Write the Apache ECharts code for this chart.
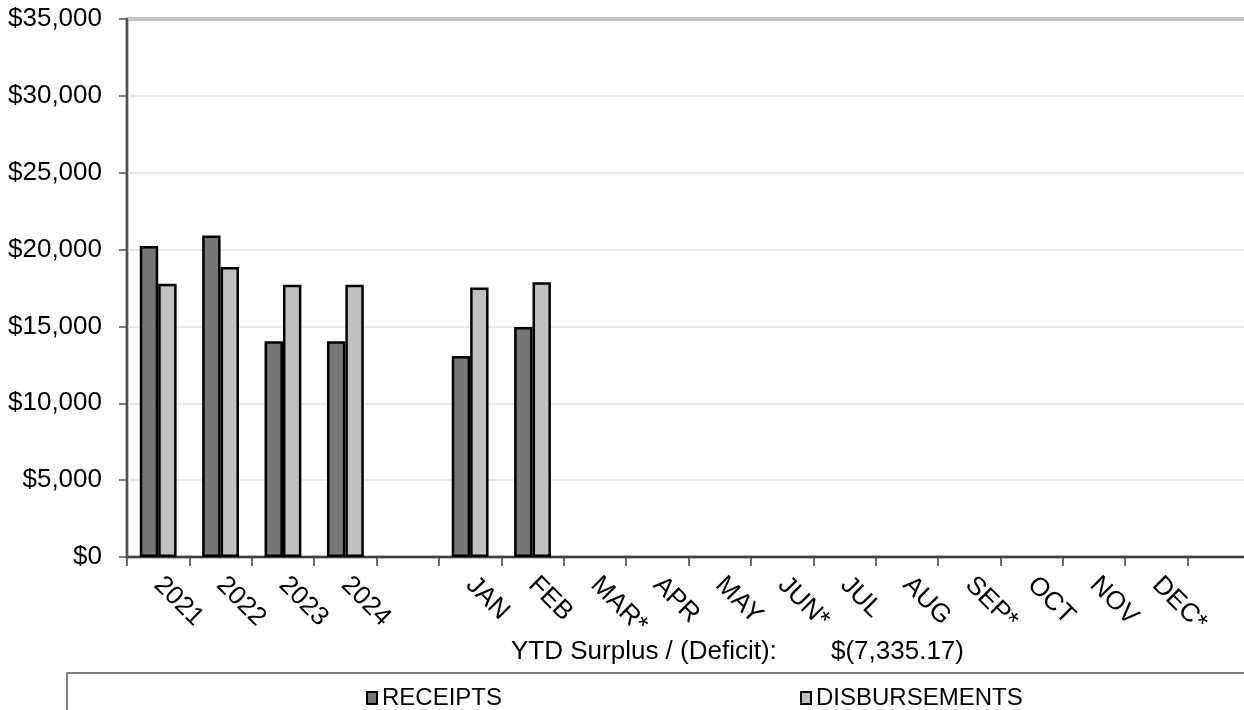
<!DOCTYPE html>
<html>
<head>
<meta charset="utf-8">
<script src="https://cdn.jsdelivr.net/npm/echarts@6/dist/echarts.min.js"></script>
<style>
html,body{margin:0;padding:0;background:#fff;}
#chart{width:1244px;height:710px;}
</style>
</head>
<body>
<div id="chart"></div>
<script>
const categories = ['2021','2022','2023','2024','','JAN','FEB','MAR*','APR','MAY','JUN*','JUL','AUG','SEP*','OCT','NOV','DEC*',''];
const receipts = [20240, 20910, 14030, 14030, null, 13070, 14960, null, null, null, null, null, null, null, null, null, null, null];
const disbursements = [17770, 18870, 17710, 17710, null, 17530, 17880, null, null, null, null, null, null, null, null, null, null, null];
const yTickValues = [0, 5000, 10000, 15000, 20000, 25000, 30000, 35000];
const ytdLabel = 'YTD Surplus / (Deficit):';
const ytdValue = '$(7,335.17)';

const FONT = "'Liberation Sans', Arial, sans-serif";
const chart = echarts.init(document.getElementById('chart'), null, {renderer: 'canvas'});

function fmtMoney(v) {
  return '$' + v.toLocaleString('en-US');
}

chart.setOption({
  animation: false,
  backgroundColor: '#ffffff',
  textStyle: {fontFamily: FONT},
  grid: {
    left: 127, top: 19, height: 538, width: 1123,
    outerBoundsMode: 'none', containLabel: false,
    show: true, borderColor: '#808080', borderWidth: 3, backgroundColor: 'transparent'
  },
  legend: [
    {
      data: ['RECEIPTS'], left: 361, top: 681, icon: 'rect',
      itemWidth: 10, itemHeight: 12, itemGap: 0,
      textStyle: {fontFamily: FONT, fontSize: 24, color: '#000'}
    },
    {
      data: ['DISBURSEMENTS'], left: 795, top: 681, icon: 'rect',
      itemWidth: 10, itemHeight: 12, itemGap: 0,
      textStyle: {fontFamily: FONT, fontSize: 24, color: '#000'}
    }
  ],
  xAxis: {
    type: 'category',
    data: categories,
    axisLine: {lineStyle: {color: '#404040', width: 2}},
    axisTick: {show: true, length: 9, lineStyle: {color: '#404040', width: 1.5}},
    axisLabel: {
      interval: 0, rotate: -45, margin: 24,
      fontFamily: FONT, fontSize: 26, color: '#000'
    },
    splitLine: {show: false}
  },
  yAxis: {
    type: 'value',
    min: 0, max: 35000, interval: 5000,
    axisLine: {show: true, lineStyle: {color: '#505050', width: 2}},
    axisTick: {show: true, length: 8, lineStyle: {color: '#505050', width: 1.5}},
    axisLabel: {
      margin: 25, fontFamily: FONT, fontSize: 26, color: '#000',
      formatter: function (v) { return yTickValues.indexOf(v) >= 0 ? fmtMoney(v) : ''; }
    },
    splitLine: {show: true, lineStyle: {color: '#e3e3e3', width: 1.5}}
  },
  series: [
    {
      name: 'RECEIPTS', type: 'bar', data: receipts,
      barGap: '0%', barCategoryGap: '41%',
      itemStyle: {color: '#767676', borderColor: '#000', borderWidth: 2.5}
    },
    {
      name: 'DISBURSEMENTS', type: 'bar', data: disbursements,
      barGap: '0%', barCategoryGap: '41%',
      itemStyle: {color: '#c0c0c0', borderColor: '#000', borderWidth: 2.5}
    }
  ],
  graphic: [
    {
      type: 'text', left: 511, top: 639,
      style: {text: ytdLabel, fontFamily: FONT, fontSize: 26, fill: '#000'}
    },
    {
      type: 'text', left: 831, top: 639,
      style: {text: ytdValue, fontFamily: FONT, fontSize: 26, fill: '#000'}
    },
    {
      type: 'polyline',
      shape: {points: [[67, 720], [67, 673], [1250, 673]]},
      style: {stroke: '#555', lineWidth: 1.5, fill: null}
    }
  ]
});
</script>
</body>
</html>
